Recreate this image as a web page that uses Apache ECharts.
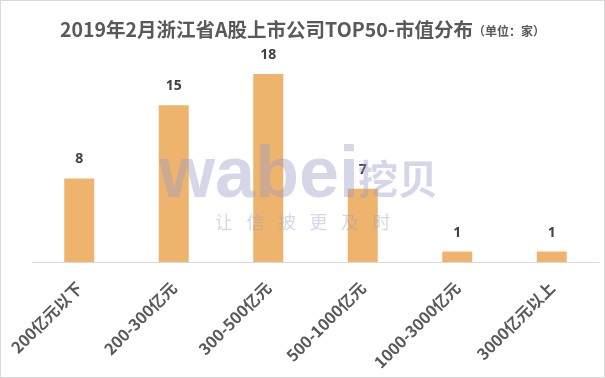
<!DOCTYPE html>
<html>
<head>
<meta charset="utf-8">
<script src="https://cdn.jsdelivr.net/npm/echarts@6/dist/echarts.min.js"></script>
<style>
  html, body { margin: 0; padding: 0; background: #fff; }
  #chart { width: 603px; height: 376px; border: 1px solid #d9d9d9; }
</style>
</head>
<body>
<div id="chart"></div>
<script>
var categories = ['200亿元以下', '200-300亿元', '300-500亿元', '500-1000亿元', '1000-3000亿元', '3000亿元以上'];
var counts = [8, 15, 18, 7, 1, 1];
var sloganChars = ['让', '信', '披', '更', '及', '时'];

var wmColor = 'rgba(150,155,200,0.4)';

function sloganGraphics() {
  return sloganChars.map(function (ch, i) {
    return {
      type: 'text',
      left: 214 + i * 31.5,
      top: 212,
      z: 100,
      style: { text: ch, fontSize: 18, fontFamily: 'Noto Sans CJK SC', fill: wmColor }
    };
  });
}

var myChart = echarts.init(document.getElementById('chart'));
var option = {
  animation: false,
  title: {
    text: '{t|2019年2月浙江省A股上市公司TOP50-市值分布}{u|（单位：家）}',
    left: 'center',
    top: 14,
    textStyle: {
      rich: {
        t: { fontSize: 19.5, fontWeight: 'bold', color: '#595959', fontFamily: 'Noto Sans CJK SC' },
        u: { fontSize: 12, fontWeight: 'bold', color: '#595959', fontFamily: 'Noto Sans CJK SC', padding: [4, 0, 0, 0] }
      }
    }
  },
  grid: { left: 31, right: 5, top: 52, bottom: 115 },
  xAxis: {
    type: 'category',
    data: categories,
    axisLine: { lineStyle: { color: '#d9d9d9' } },
    axisTick: { show: false },
    axisLabel: {
      rotate: 45,
      interval: 0,
      margin: 23,
      fontSize: 16,
      fontWeight: 'bold',
      color: '#595959',
      fontFamily: 'Noto Sans CJK SC'
    }
  },
  yAxis: {
    type: 'value',
    min: 0,
    max: 20,
    show: false,
    splitLine: { show: false }
  },
  series: [{
    type: 'bar',
    data: counts,
    barWidth: 30,
    itemStyle: { color: '#EEB46D' },
    label: {
      show: true,
      position: 'top',
      distance: 12,
      fontSize: 14,
      fontWeight: 'bold',
      color: '#404040',
      fontFamily: 'Noto Sans'
    }
  }],
  graphic: [{
    type: 'text',
    left: 158,
    top: 140,
    z: 100,
    style: {
      text: 'wabei',
      fontSize: 72,
      fontWeight: 'bold',
      fontFamily: 'Liberation Sans',
      fill: wmColor
    }
  }, {
    type: 'text',
    left: 357,
    top: 158,
    z: 100,
    style: {
      text: '挖贝',
      fontSize: 40,
      fontWeight: 'bold',
      fontFamily: 'Noto Sans CJK SC',
      fill: wmColor
    }
  }].concat(sloganGraphics())
};
myChart.setOption(option, true);
</script>
</body>
</html>
